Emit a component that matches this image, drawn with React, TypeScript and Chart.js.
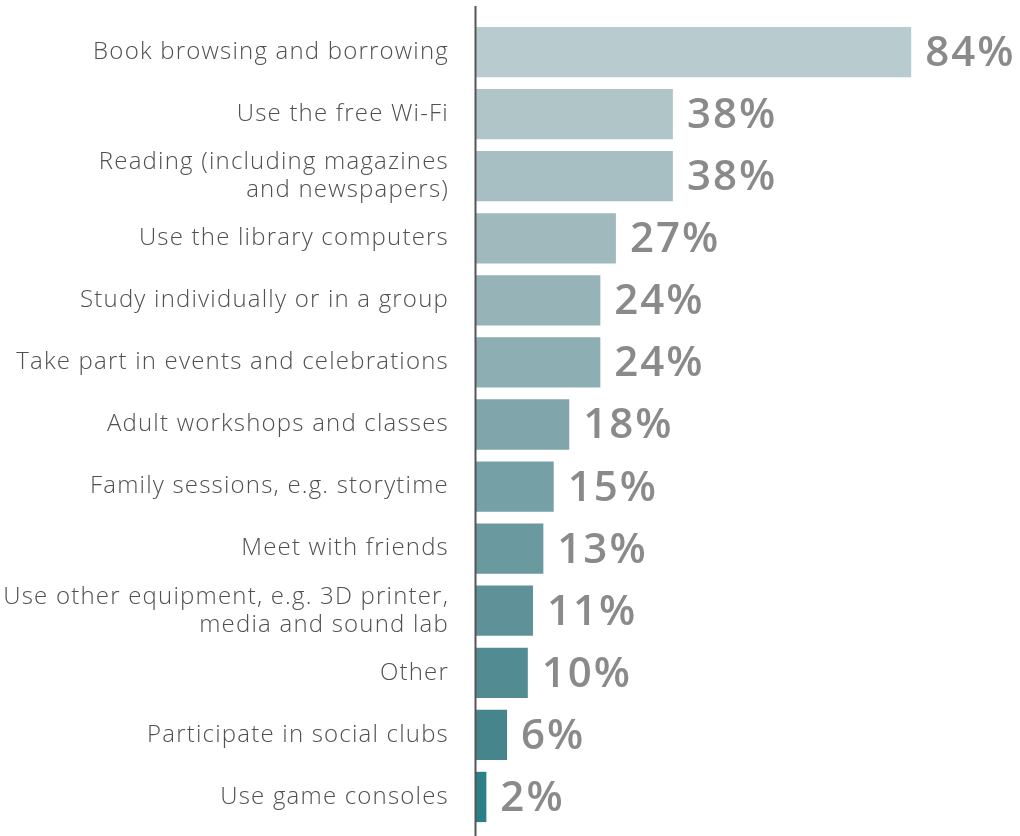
import React, { useEffect, useRef } from "react";
import { Chart, registerables } from "chart.js";

Chart.register(...registerables);

const categories: (string | string[])[] = [
  "Book browsing and borrowing",
  "Use the free Wi-Fi",
  ["Reading (including magazines", "and newspapers)"],
  "Use the library computers",
  "Study individually or in a group",
  "Take part in events and celebrations",
  "Adult workshops and classes",
  "Family sessions, e.g. storytime",
  "Meet with friends",
  ["Use other equipment, e.g. 3D printer,", "media and sound lab"],
  "Other",
  "Participate in social clubs",
  "Use game consoles",
];

const values: number[] = [84, 38, 38, 27, 24, 24, 18, 15, 13, 11, 10, 6, 2];

const barColors: string[] = [
  "#b8cccf",
  "#afc5c8",
  "#a7bfc2",
  "#9fb9bc",
  "#96b3b7",
  "#8daeb2",
  "#80a6ab",
  "#75a0a5",
  "#6a999f",
  "#5e9298",
  "#528b91",
  "#45858b",
  "#2b7f86",
];

const letterSpacingPlugin = {
  id: "letterSpacing",
  beforeDraw(chart: any) {
    (chart.ctx as any).letterSpacing = "1.2px";
  },
  afterDraw(chart: any) {
    (chart.ctx as any).letterSpacing = "0px";
  },
};

const valueLabelPlugin = {
  id: "valueLabels",
  afterDatasetsDraw(chart: any) {
    const ctx = chart.ctx;
    const meta = chart.getDatasetMeta(0);
    const data = chart.data.datasets[0].data as number[];
    ctx.save();
    (ctx as any).letterSpacing = "2px";
    ctx.fillStyle = "#8a8a8a";
    ctx.font = "600 42px 'Open Sans', sans-serif";
    ctx.textAlign = "left";
    ctx.textBaseline = "middle";
    meta.data.forEach((bar: any, i: number) => {
      ctx.fillText(`${data[i]}%`, bar.x + 14, bar.y + 2);
    });
    ctx.restore();
  },
};

const axisLinePlugin = {
  id: "axisLine",
  afterDraw(chart: any) {
    const ctx = chart.ctx;
    const x = chart.chartArea.left;
    ctx.save();
    ctx.strokeStyle = "#555555";
    ctx.lineWidth = 2;
    ctx.beginPath();
    ctx.moveTo(x - 0.5, chart.chartArea.top - 15);
    ctx.lineTo(x - 0.5, chart.height);
    ctx.stroke();
    ctx.restore();
  },
};

export default function App() {
  const canvasRef = useRef<HTMLCanvasElement | null>(null);

  useEffect(() => {
    if (!canvasRef.current) return;
    const chart = new Chart(canvasRef.current, {
      type: "bar",
      data: {
        labels: categories,
        datasets: [
          {
            data: values,
            backgroundColor: barColors,
            borderWidth: 0,
            categoryPercentage: 1,
            barPercentage: 0.81,
          },
        ],
      },
      options: {
        indexAxis: "y",
        animation: false,
        responsive: true,
        maintainAspectRatio: false,
        layout: { padding: { top: 21, bottom: 8, left: 0, right: 0 } },
        plugins: {
          legend: { display: false },
          tooltip: { enabled: false },
          title: { display: false },
        },
        scales: {
          x: {
            display: false,
            min: 0,
            max: 105,
          },
          y: {
            grid: { display: false, drawTicks: false },
            border: { display: false },
            afterFit(scale: any) {
              scale.width = 476;
              scale.paddingTop = 0;
              scale.paddingBottom = 0;
            },
            ticks: {
              padding: 27,
              color: "#505050",
              font: { family: "'Open Sans', sans-serif", size: 24, weight: "300", lineHeight: 1.17 },
              autoSkip: false,
            },
          },
        },
      },
      plugins: [letterSpacingPlugin, valueLabelPlugin, axisLinePlugin],
    });
    return () => chart.destroy();
  }, []);

  return (
    <div style={{ position: "absolute", left: 0, top: 0, width: 1020, height: 836, background: "#ffffff" }}>
      <canvas ref={canvasRef} />
    </div>
  );
}
